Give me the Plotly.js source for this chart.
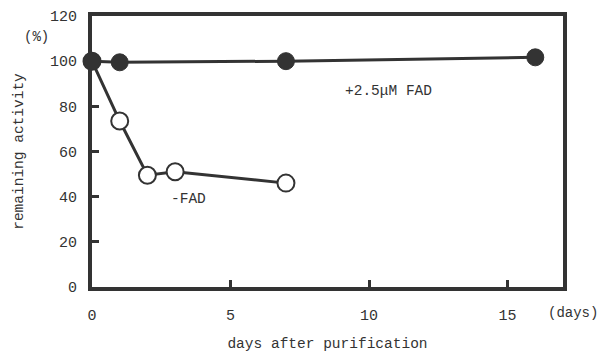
<!DOCTYPE html>
<html><head><meta charset="utf-8">
<script src="https://cdn.plot.ly/plotly-3.0.1.min.js"></script>
<style>body{margin:0;background:#fff}#c{width:598px;height:352px}</style>
</head><body><div id="c"></div>
<script>
const daysFAD = [0, 1, 7, 16];
const actFAD = [100, 99.5, 100, 101.7];
const daysNo = [0, 1, 2, 3, 7];
const actNo = [100, 73.5, 49.5, 51, 46];
const xTicks = [0, 5, 10, 15];
const yTicks = [0, 20, 40, 60, 80, 100, 120];
const labelFAD = '+2.5μM FAD';
const labelNo = '-FAD';

const C = '#333333';
const F = 'Liberation Mono, DejaVu Sans Mono, monospace';

const traces = [
  {x: daysNo, y: actNo, mode: 'lines+markers', cliponaxis: false,
   line: {color: C, width: 3},
   marker: {size: 17, color: '#ffffff', line: {color: C, width: 2}}},
  {x: daysFAD, y: actFAD, mode: 'lines+markers', cliponaxis: false,
   line: {color: C, width: 3},
   marker: {size: 17, color: C, line: {color: C, width: 1}}}
];

const layout = {
  width: 598, height: 352,
  margin: {l: 92, r: 35, t: 16, b: 65},
  paper_bgcolor: '#fff', plot_bgcolor: '#fff',
  showlegend: false,
  font: {family: F, size: 15, color: C},
  xaxis: {range: [0, 17], tickvals: xTicks, ticktext: xTicks.map(String),
    showgrid: false, zeroline: false, showline: true, mirror: true,
    linecolor: C, linewidth: 4, ticks: 'inside', ticklen: 7, tickwidth: 3, tickcolor: C,
    ticklabelstandoff: 11,
    title: {text: 'days after purification', font: {family: F, size: 14.5, color: C}, standoff: 16}},
  yaxis: {range: [0, 120], tickvals: yTicks, ticktext: yTicks.map(String),
    showgrid: false, zeroline: false, showline: true, mirror: true,
    linecolor: C, linewidth: 4, ticks: 'inside', ticklen: 7, tickwidth: 3, tickcolor: C,
    ticklabelstandoff: 8,
    title: {text: 'remaining activity', font: {family: F, size: 14.5, color: C}, standoff: 24}},
  annotations: [
    {x: 10.7, y: 87, xref: 'x', yref: 'y', text: labelFAD, showarrow: false, font: {family: F, size: 14.5, color: C}},
    {x: 3.5, y: 39, xref: 'x', yref: 'y', text: labelNo, showarrow: false, font: {family: F, size: 14.5, color: C}},
    {x: (573 - 92) / 471, y: -(313 - 287) / 271, xref: 'paper', yref: 'paper', xanchor: 'center', yanchor: 'middle',
     text: '(days)', showarrow: false, font: {family: F, size: 14, color: C}},
    {x: (36 - 92) / 471, y: (287 - 37) / 271, xref: 'paper', yref: 'paper', xanchor: 'center', yanchor: 'middle',
     text: '(%)', showarrow: false, font: {family: F, size: 14, color: C}}
  ]
};

Plotly.newPlot('c', traces, layout, {displayModeBar: false, staticPlot: true});
</script></body></html>
